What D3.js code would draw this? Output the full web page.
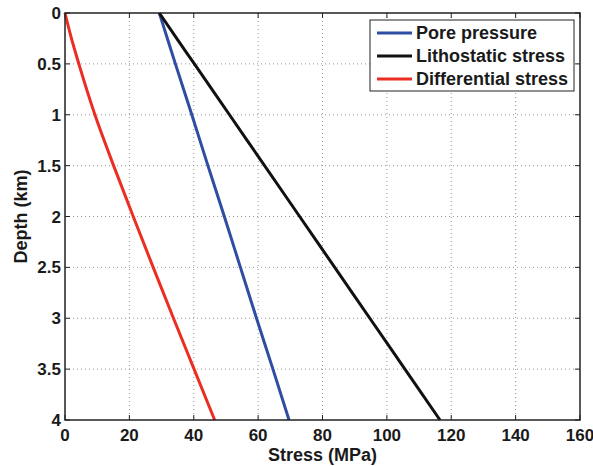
<!DOCTYPE html>
<html>
<head>
<script src="https://d3js.org/d3.v7.min.js"></script>
<style>
  body { margin: 0; background: #fff; }
  text { font-family: "Liberation Sans", Arial, sans-serif; font-weight: bold; fill: #1a1a1a; }
</style>
</head>
<body>
<div id="chart"></div>
<script>
// depth samples (km) and stress (MPa)
const depth = [0, 0.25, 0.5, 1, 1.5, 2, 2.5, 3, 3.5, 4];
const porePressure = [29.3, 31.8, 34.3, 39.4, 44.4, 49.5, 54.5, 59.5, 64.6, 69.6];
const lithostatic = [29.3, 34.7, 40.2, 51.1, 62.0, 72.9, 83.8, 94.7, 105.6, 116.5];
const differential = [0, 2.0, 4.3, 9.3, 15.1, 21.2, 27.4, 33.7, 40.1, 46.5];

const xTicks = [0, 20, 40, 60, 80, 100, 120, 140, 160];
const yTicks = [0, 0.5, 1, 1.5, 2, 2.5, 3, 3.5, 4];

const seriesNames = ["Pore pressure", "Lithostatic stress", "Differential stress"];
const seriesColors = ["#2f4ea3", "#111111", "#ec2d24"];
const seriesValues = [porePressure, lithostatic, differential];

const W = 593, H = 466;
const margin = { top: 13, right: 13, bottom: 46, left: 65 };

const svg = d3.select("#chart").append("svg")
    .attr("width", W).attr("height", H);

const x = d3.scaleLinear().domain([0, 160]).range([margin.left, W - margin.right]);
const y = d3.scaleLinear().domain([0, 4]).range([margin.top, H - margin.bottom]);

// dotted grid
svg.append("g").selectAll("line").data(xTicks.slice(1, -1)).join("line")
    .attr("x1", d => x(d)).attr("x2", d => x(d))
    .attr("y1", y(0)).attr("y2", y(4))
    .attr("stroke", "#999").attr("stroke-width", 1).attr("stroke-dasharray", "1,3");
svg.append("g").selectAll("line").data(yTicks.slice(1, -1)).join("line")
    .attr("x1", x(0)).attr("x2", x(160))
    .attr("y1", d => y(d)).attr("y2", d => y(d))
    .attr("stroke", "#999").attr("stroke-width", 1).attr("stroke-dasharray", "1,3");

// inward ticks on all four sides
const tickLen = 5;
const tk = svg.append("g").attr("stroke", "#222").attr("stroke-width", 1);
xTicks.forEach(d => {
  tk.append("line").attr("x1", x(d)).attr("x2", x(d)).attr("y1", y(4)).attr("y2", y(4) - tickLen);
  tk.append("line").attr("x1", x(d)).attr("x2", x(d)).attr("y1", y(0)).attr("y2", y(0) + tickLen);
});
yTicks.forEach(d => {
  tk.append("line").attr("x1", x(0)).attr("x2", x(0) + tickLen).attr("y1", y(d)).attr("y2", y(d));
  tk.append("line").attr("x1", x(160)).attr("x2", x(160) - tickLen).attr("y1", y(d)).attr("y2", y(d));
});

// lines
const line = d3.line().x(d => x(d[0])).y(d => y(d[1])).curve(d3.curveMonotoneY);
seriesValues.forEach((vals, i) => {
  svg.append("path")
    .datum(vals.map((v, j) => [v, depth[j]]))
    .attr("fill", "none")
    .attr("stroke", seriesColors[i])
    .attr("stroke-width", 3)
    .attr("d", line);
});

// frame
svg.append("rect")
    .attr("x", x(0)).attr("y", y(0))
    .attr("width", x(160) - x(0)).attr("height", y(4) - y(0))
    .attr("fill", "none").attr("stroke", "#222").attr("stroke-width", 1.5);

// tick labels
svg.append("g").selectAll("text").data(xTicks).join("text")
    .attr("x", d => x(d)).attr("y", 441)
    .attr("text-anchor", "middle").style("font-size", "17px")
    .text(d => d);
svg.append("g").selectAll("text").data(yTicks).join("text")
    .attr("x", 61).attr("y", d => y(d))
    .attr("dy", "0.36em")
    .attr("text-anchor", "end").style("font-size", "17px")
    .text(d => d);

// axis titles
svg.append("text")
    .attr("x", (x(0) + x(160)) / 2).attr("y", 461)
    .attr("text-anchor", "middle").style("font-size", "18px")
    .text("Stress (MPa)");
svg.append("text")
    .attr("transform", `translate(27, ${(y(0) + y(4)) / 2}) rotate(-90)`)
    .attr("text-anchor", "middle").style("font-size", "18px")
    .text("Depth (km)");

// legend
const lg = svg.append("g");
lg.append("rect")
    .attr("x", 370).attr("y", 20).attr("width", 204).attr("height", 71)
    .attr("fill", "#fff").attr("stroke", "#222").attr("stroke-width", 1);
seriesNames.forEach((name, i) => {
  const yy = 33 + i * 23;
  lg.append("line")
    .attr("x1", 377).attr("x2", 412).attr("y1", yy).attr("y2", yy)
    .attr("stroke", seriesColors[i]).attr("stroke-width", 3);
  lg.append("text")
    .attr("x", 416).attr("y", yy).attr("dy", "0.36em")
    .style("font-size", "18px")
    .text(name);
});
</script>
</body>
</html>
